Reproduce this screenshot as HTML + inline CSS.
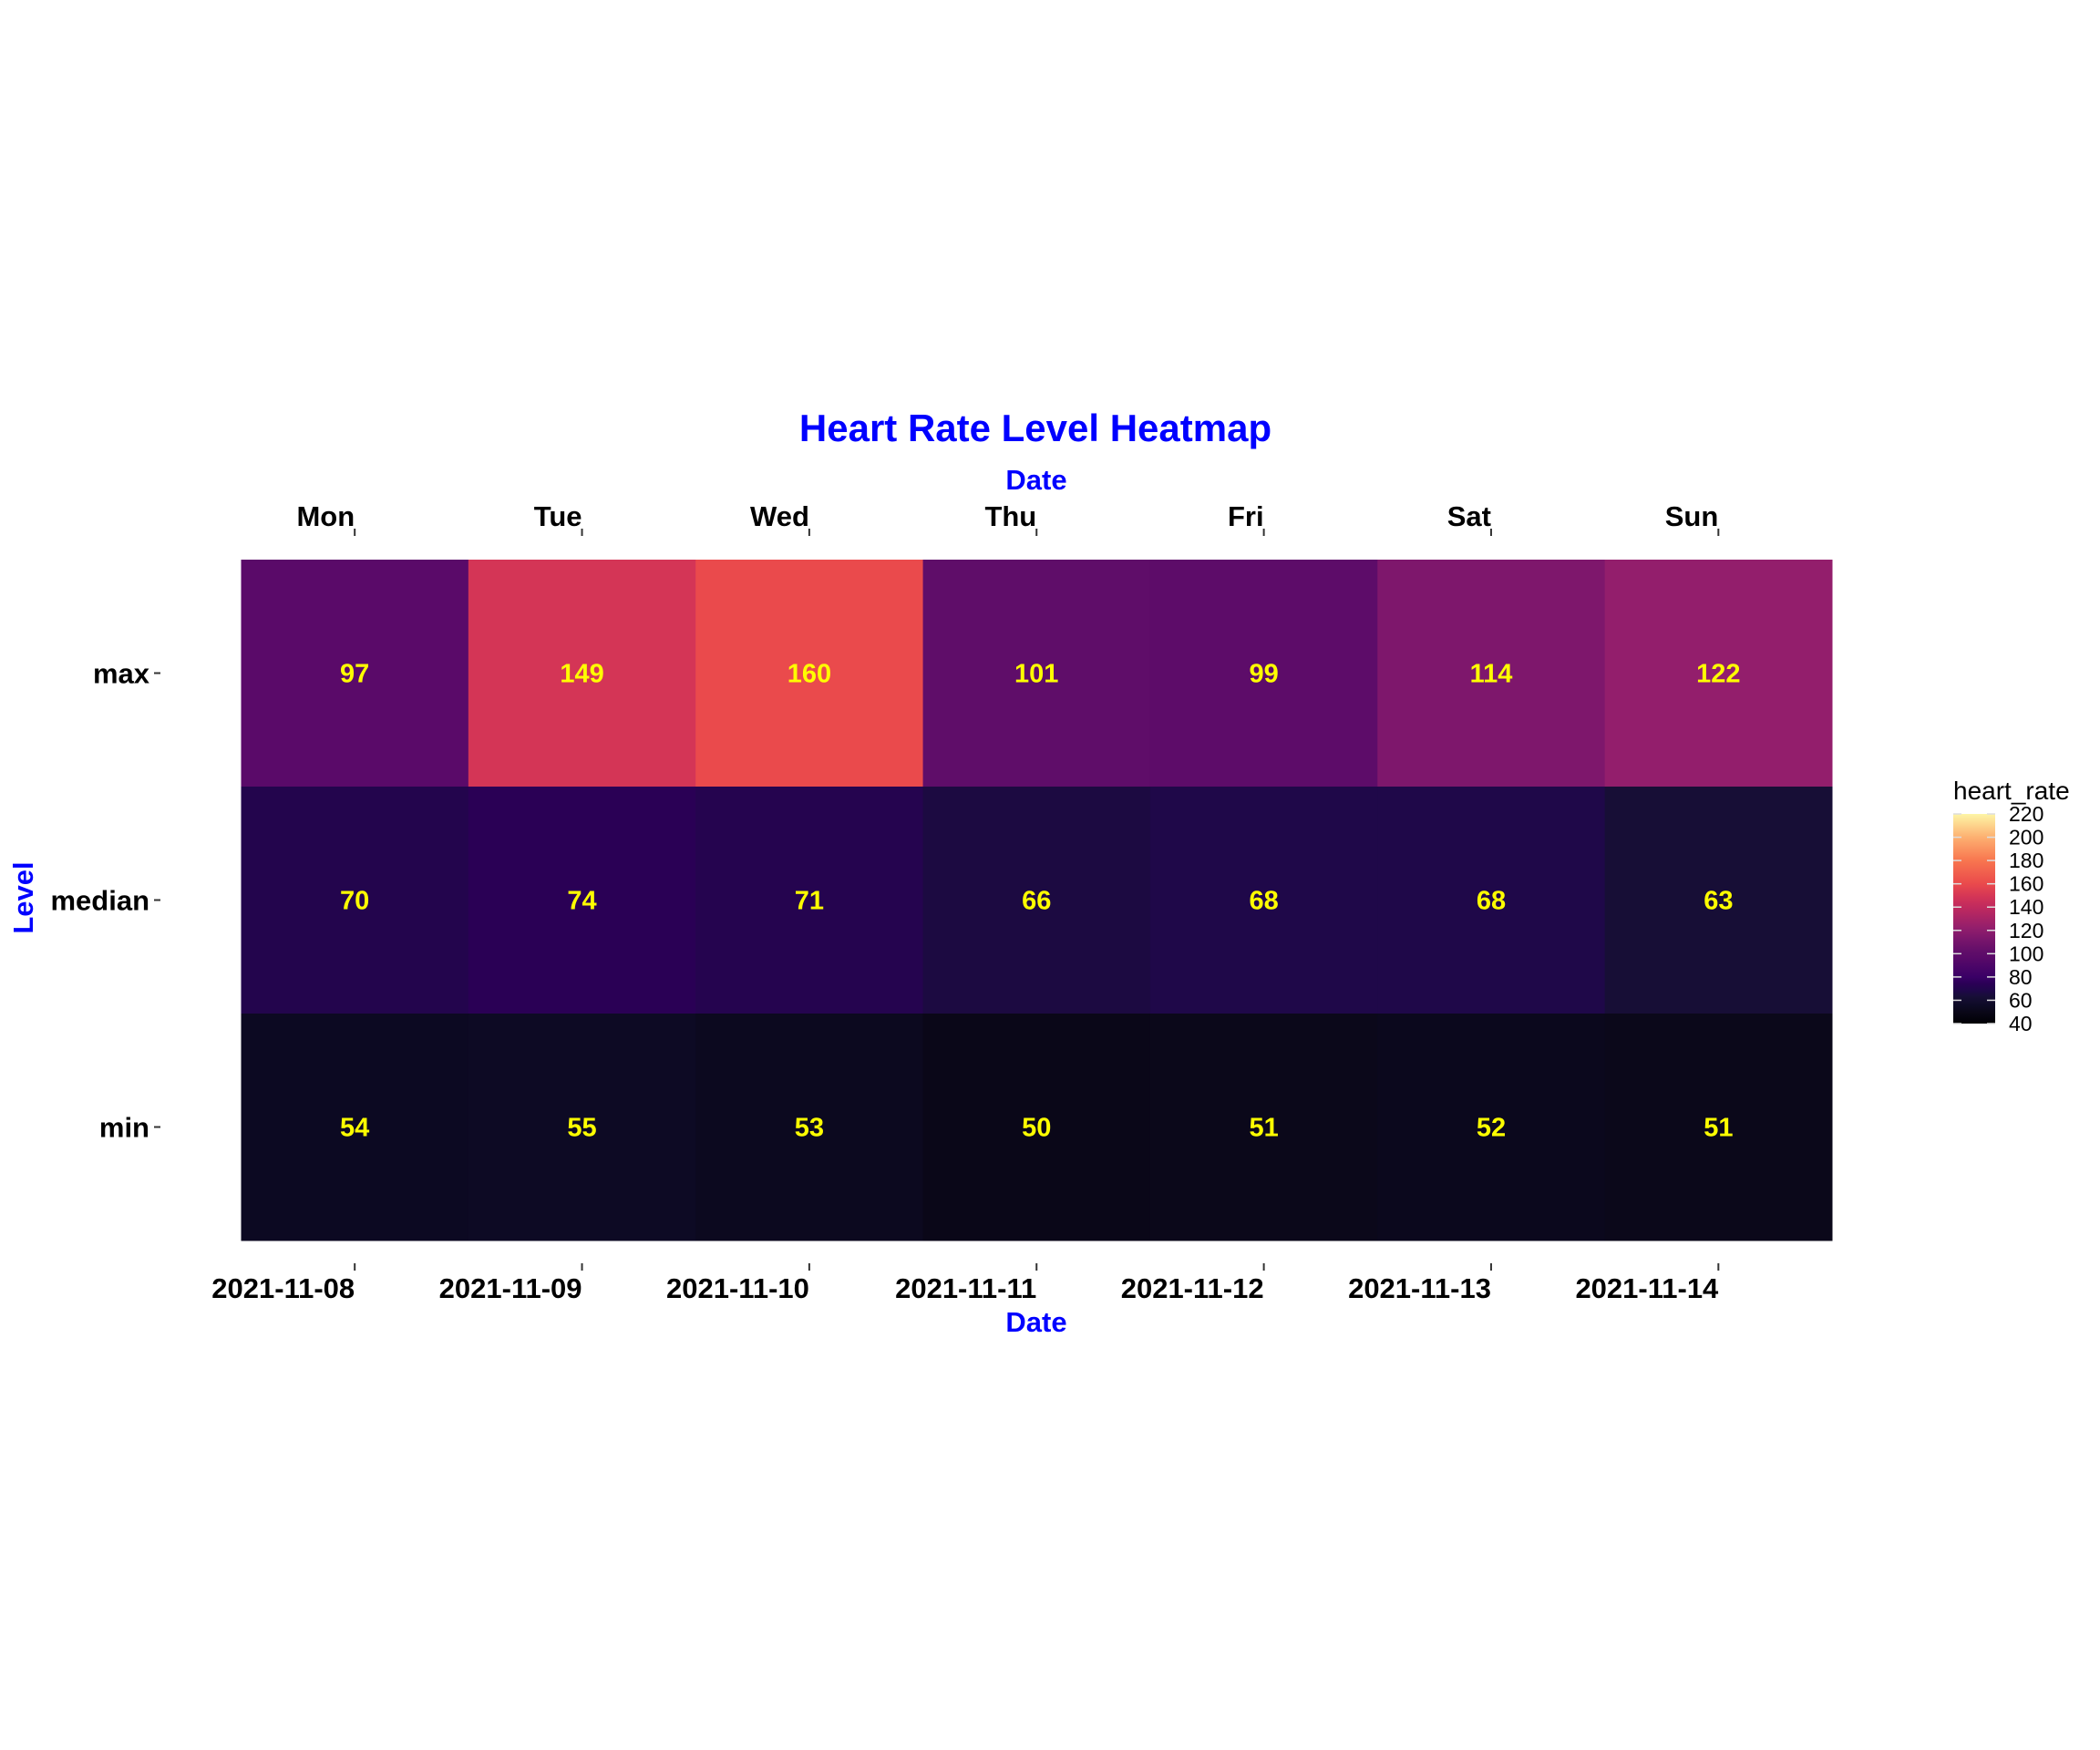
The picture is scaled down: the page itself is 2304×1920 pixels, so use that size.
<!DOCTYPE html>
<html><head><meta charset="utf-8"><style>
html,body{margin:0;padding:0;background:#fff}
svg{display:block;font-family:"Liberation Sans",Arial,sans-serif}
</style></head><body>
<svg id="chart" width="2304" height="1920" viewBox="0 0 2304 1920" xmlns="http://www.w3.org/2000/svg">
<defs><linearGradient id="magma" x1="0" y1="1" x2="0" y2="0"></linearGradient></defs>
<text x="1136" y="484" text-anchor="middle" font-size="42" font-weight="bold" fill="#0000ff">Heart Rate Level Heatmap</text>
<text x="1137" y="537" text-anchor="middle" font-size="31" font-weight="bold" fill="#0000ff">Date</text>
<text x="1137" y="1461" text-anchor="middle" font-size="31" font-weight="bold" fill="#0000ff">Date</text>
<text transform="translate(36,985) rotate(-90)" text-anchor="middle" font-size="31" font-weight="bold" fill="#0000ff">Level</text>
<g id="cells"></g><g id="axes"></g><g id="legend"></g>
</svg>
<script>
const days = ["Mon","Tue","Wed","Thu","Fri","Sat","Sun"];
const dates = ["2021-11-08","2021-11-09","2021-11-10","2021-11-11","2021-11-12","2021-11-13","2021-11-14"];
const levels = ["max","median","min"];
const maxValues = [97,149,160,101,99,114,122];
const medianValues = [70,74,71,66,68,68,63];
const minValues = [54,55,53,50,51,52,51];
const legendTicks = [40,60,80,100,120,140,160,180,200,220];

const NS="http://www.w3.org/2000/svg";
const X0=264.5,X1=2010,Y0=614,Y1=1361;
const cw=(X1-X0)/days.length, rh=(Y1-Y0)/levels.length;
const xPos=i=>X0+cw*i, yPos=j=>Y0+rh*j;
const vmin=40,vmax=220;
const scaleV=[40,50,55,63,68,74,80,97,101,114,122,140,149,160,180,200,220];
const scaleC=["#000004","#0a0718","#0d0a24","#170e36","#1f0849","#2a0055","#3a0066","#5a0a69","#5f0d69","#7e176c","#931e6c","#c02a5e","#d43556","#ea4a4c","#f8764f","#fdb071","#fdf5a6"];
function color(v){v=Math.max(vmin,Math.min(vmax,v));let i=0;while(i<scaleV.length-2&&v>scaleV[i+1])i++;
 const f=(v-scaleV[i])/(scaleV[i+1]-scaleV[i]);const a=scaleC[i],b=scaleC[i+1];
 const c=k=>Math.round(parseInt(a.substr(k,2),16)*(1-f)+parseInt(b.substr(k,2),16)*f);
 return `rgb(${c(1)},${c(3)},${c(5)})`;}
function mk(tag,attrs,parent,txt){const e=document.createElementNS(NS,tag);for(const k in attrs)e.setAttribute(k,attrs[k]);if(txt!==undefined)e.textContent=txt;parent.appendChild(e);return e;}
const grad=document.getElementById('magma');
scaleV.forEach((v,i)=>mk('stop',{offset:(v-vmin)/(vmax-vmin),'stop-color':scaleC[i]},grad));
const cells=document.getElementById('cells'),axes=document.getElementById('axes'),legend=document.getElementById('legend');
const series=[maxValues,medianValues,minValues];
series.forEach((vals,j)=>{vals.forEach((v,i)=>{
 const r=mk('rect',{x:xPos(i),y:yPos(j),width:cw+0.5,height:rh+0.5,fill:color(v)},cells);
 
 
 const t=mk('text',{x:xPos(i)+cw/2,y:yPos(j)+rh/2+10,'text-anchor':'middle','font-size':29,'font-weight':'bold',fill:'#ffff00'},cells,v);
 
 
});});
days.forEach((d,i)=>{const cx=xPos(i)+cw/2;
 const t=mk('text',{x:cx,y:577,'text-anchor':'end','font-size':31,'font-weight':'bold',fill:'#000'},axes,d);
 
 
 const tk=mk('line',{x1:cx,x2:cx,y1:580,y2:588,stroke:'#333','stroke-width':2},axes);
 
 
 const b=mk('text',{x:cx,y:1424,'text-anchor':'end','font-size':31,'font-weight':'bold',fill:'#000'},axes,dates[i]);
 
 
 const bk=mk('line',{x1:cx,x2:cx,y1:1386,y2:1394,stroke:'#333','stroke-width':2},axes);
 
 
});
levels.forEach((l,j)=>{const cy=yPos(j)+rh/2;
 const t=mk('text',{x:164,y:cy+11,'text-anchor':'end','font-size':31,'font-weight':'bold',fill:'#000'},axes,l);
 
 
 const tk=mk('line',{x1:169,x2:176,y1:cy,y2:cy,stroke:'#333','stroke-width':2},axes);
 
 
});
const LX=2143,LW=46,LT=893,LB=1123;
const ly=v=>LB-(v-vmin)/(vmax-vmin)*(LB-LT);
const lt=mk('text',{x:LX,y:877,'font-size':28,fill:'#000'},legend,'heart_rate');


const bar=mk('rect',{x:LX,y:LT,width:LW,height:LB-LT,fill:'url(#magma)'},legend);


legendTicks.forEach(v=>{const y=ly(v);
 mk('line',{x1:LX,x2:LX+9,y1:y,y2:y,stroke:'#ddd','stroke-width':1.5},legend);
 mk('line',{x1:LX+LW-9,x2:LX+LW,y1:y,y2:y,stroke:'#ddd','stroke-width':1.5},legend);
 const t=mk('text',{x:LX+61,y:y+8,'font-size':23,fill:'#000'},legend,v);
 
 
});
</script>
</body></html>
